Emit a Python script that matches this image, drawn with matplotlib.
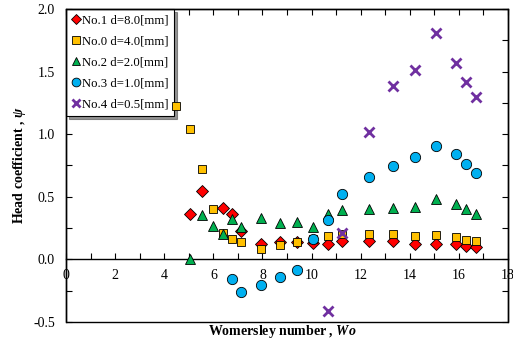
import matplotlib
matplotlib.use("Agg")
import matplotlib.pyplot as plt
from matplotlib.ticker import MultipleLocator, FormatStrFormatter
from matplotlib.patches import Rectangle

plt.rcParams['font.family'] = ['Liberation Serif', 'DejaVu Serif']
plt.rcParams['axes.unicode_minus'] = False
plt.rcParams['mathtext.fontset'] = 'custom'
plt.rcParams['mathtext.rm'] = 'Liberation Serif:bold'
plt.rcParams['mathtext.it'] = 'Liberation Serif:italic:bold'
plt.rcParams['mathtext.bf'] = 'Liberation Serif:bold'

# ---- data ----
labels = ["No.1 d=8.0[mm]", "No.0 d=4.0[mm]", "No.2 d=2.0[mm]",
          "No.3 d=1.0[mm]", "No.4 d=0.5[mm]"]

x_no1 = [5.03, 5.52, 6.38, 6.78, 7.14, 7.96, 8.73, 9.41, 10.07, 10.68, 11.25,
         12.32, 13.33, 14.22, 15.07, 15.88, 16.30, 16.69]
y_no1 = [0.365, 0.545, 0.41, 0.363, 0.23, 0.12, 0.14, 0.14, 0.13, 0.12, 0.143,
         0.149, 0.149, 0.125, 0.125, 0.125, 0.109, 0.099]

x_no0 = [4.49, 5.06, 5.52, 5.97, 6.38, 6.78, 7.14, 7.96, 8.73, 9.41, 10.07,
         10.68, 11.25, 12.32, 13.33, 14.22, 15.07, 15.88, 16.30, 16.69]
y_no0 = [1.225, 1.044, 0.726, 0.403, 0.21, 0.163, 0.135, 0.087, 0.118, 0.135,
         0.16, 0.183, 0.205, 0.203, 0.203, 0.185, 0.195, 0.176, 0.157, 0.143]

x_no2 = [5.03, 5.52, 5.97, 6.38, 6.78, 7.14, 7.96, 8.73, 9.41, 10.07, 10.68,
         11.25, 12.32, 13.33, 14.22, 15.07, 15.88, 16.30, 16.69]
y_no2 = [0.0, 0.357, 0.264, 0.204, 0.323, 0.257, 0.331, 0.29, 0.298, 0.259,
         0.365, 0.397, 0.405, 0.41, 0.416, 0.483, 0.443, 0.403, 0.365]

x_no3 = [6.78, 7.14, 7.96, 8.73, 9.41, 10.07, 10.68, 11.25, 12.32, 13.33,
         14.22, 15.07, 15.88, 16.30, 16.69]
y_no3 = [-0.158, -0.257, -0.206, -0.142, -0.081, 0.165, 0.312, 0.526, 0.656,
         0.745, 0.817, 0.905, 0.838, 0.758, 0.691]

x_no4 = [10.68, 11.25, 12.32, 13.33, 14.22, 15.07, 15.88, 16.30, 16.69]
y_no4 = [-0.412, 0.21, 1.017, 1.386, 1.511, 1.805, 1.565, 1.42, 1.297]

xticks = [0, 2, 4, 6, 8, 10, 12, 14, 16, 18]
yticks = [-0.5, 0.0, 0.5, 1.0, 1.5, 2.0]

# ---- figure ----
fig = plt.figure(figsize=(5.13, 3.43), dpi=100)
ax = fig.add_axes([66/513, 21/343, (508-66)/513, (322-9)/343])

ec = 'black'
ax.plot(x_no1, y_no1, ls='none', marker='D', ms=6.4, mfc='#FF0000', mec=ec, mew=0.6, label=labels[0], zorder=3)
ax.plot(x_no0, y_no0, ls='none', marker='s', ms=6.0, mfc='#FFC000', mec=ec, mew=0.6, label=labels[1], zorder=3)
ax.plot(x_no2, y_no2, ls='none', marker='^', ms=7.2, mfc='#00B050', mec=ec, mew=0.6, label=labels[2], zorder=3)
ax.plot(x_no3, y_no3, ls='none', marker='o', ms=7.4, mfc='#00B0F0', mec=ec, mew=0.6, label=labels[3], zorder=3)
ax.plot(x_no4, y_no4, ls='none', marker='x', ms=6.5, mec='#7030A0', mew=2.0, label=labels[4], zorder=3)

ax.set_xlim(0, 18)
ax.set_ylim(-0.5, 2.0)
ax.set_xticks(xticks)
ax.set_yticks(yticks)
ax.xaxis.set_minor_locator(MultipleLocator(1))
ax.yaxis.set_minor_locator(MultipleLocator(0.25))
ax.yaxis.set_major_formatter(FormatStrFormatter('%.1f'))

ax.spines['bottom'].set_position(('data', 0))
for s in ax.spines.values():
    s.set_linewidth(1.0)
# full frame including bottom edge at y = -0.5
ax.add_patch(Rectangle((0, 0), 1, 1, transform=ax.transAxes, fill=False,
                       ec='black', lw=1.0, clip_on=False, zorder=5))

ax.tick_params(which='both', direction='in', top=True, right=True,
               length=4, width=0.8, labelsize=10, colors='black')
ax.tick_params(axis='x', which='major', pad=7)
ax.tick_params(axis='y', which='major', pad=8)

ax.set_ylabel(r"Head coefficient , $\psi$", fontsize=10, fontweight='bold', labelpad=4)
ax.set_xlabel(r"Womersley number , $Wo$", fontsize=10, fontweight='bold')
ax.xaxis.set_label_coords(0.49, -0.004)

leg = ax.legend(loc='upper left', borderaxespad=0, fontsize=9.2, fancybox=False,
                shadow={'ox': 2, 'oy': -2, 'color': '0.3', 'alpha': 0.6},
                edgecolor='black', framealpha=1, handlelength=0.6,
                handletextpad=0.2, labelspacing=0.7, borderpad=0.45,
                markerscale=0.85)
leg.get_frame().set_linewidth(0.8)
leg.set_zorder(2)

fig.savefig("out.png", dpi=100)
